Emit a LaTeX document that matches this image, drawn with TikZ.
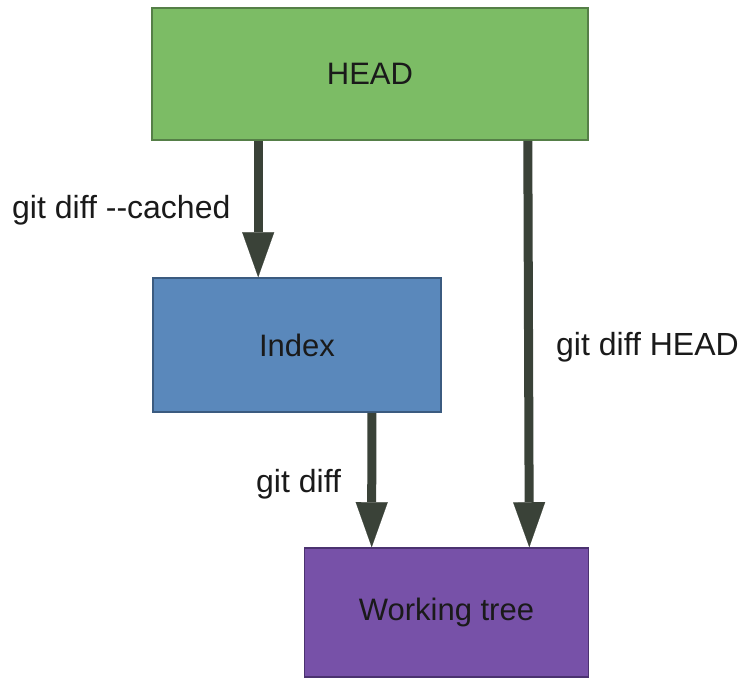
\documentclass[tikz,border=0pt]{standalone}
\usepackage{fontspec}
\setmainfont{Liberation Sans}
\usetikzlibrary{arrows.meta}
\definecolor{headfill}{HTML}{7CBC65}
\definecolor{headline}{HTML}{557F47}
\definecolor{idxfill}{HTML}{5A88BB}
\definecolor{idxline}{HTML}{3B5B80}
\definecolor{wtfill}{HTML}{7751A8}
\definecolor{wtline}{HTML}{4B3270}
\definecolor{arrowcol}{HTML}{3A4238}
\definecolor{txt}{HTML}{1A1A1A}
\tikzset{
  box/.style={draw, line width=1.6pt, rectangle, inner sep=0pt, text=txt,
    font=\fontsize{31}{37}\selectfont},
  lbl/.style={inner sep=0pt, anchor=base west, text=txt,
    font=\fontsize{32}{38}\selectfont},
  bigarrow/.style={draw=arrowcol, line width=9pt,
    -{Triangle[width=32pt,length=45pt,line width=0.1pt]}, arrowcol}
}
\begin{document}
\begin{tikzpicture}[x=1pt,y=-1pt]
\useasboundingbox (0,0) rectangle (745,678);
\node[box, fill=headfill, draw=headline, minimum width=436pt, minimum height=132pt] (head) at (370,74) {HEAD};
\node[box, fill=idxfill, draw=idxline, minimum width=288pt, minimum height=134pt] (idx) at (297,345) {Index};
\node[box, fill=wtfill, draw=wtline, minimum width=284pt, minimum height=129pt] (wt) at (446.5,612.5) {Working tree};
\draw[bigarrow] ([xshift=107pt]head.south west) -- ([xshift=106pt]idx.north west);
\draw[bigarrow] ([xshift=-70pt]idx.south east) -- ([xshift=68pt]wt.north west);
\draw[bigarrow] ([xshift=-61pt]head.south east) -- ([xshift=-60pt]wt.north east);
\node[lbl] (l1) at (12,218) {git diff -{}-cached};
\node[lbl] (l2) at (556,355) {git diff HEAD};
\node[lbl] (l3) at (256,492) {git diff};
\end{tikzpicture}
\end{document}
